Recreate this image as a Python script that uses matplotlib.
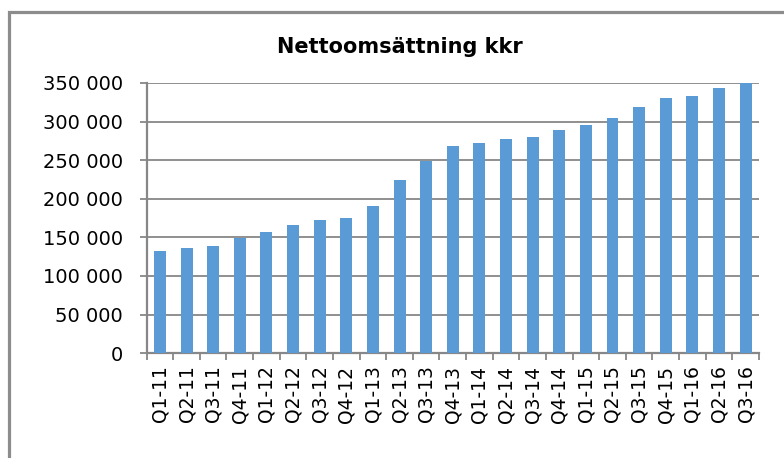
import matplotlib
matplotlib.use("Agg")
import matplotlib.pyplot as plt
from matplotlib.ticker import FuncFormatter, FixedLocator
from matplotlib.patches import Rectangle
import numpy as np

quarters = ["Q1-11", "Q2-11", "Q3-11", "Q4-11", "Q1-12", "Q2-12", "Q3-12", "Q4-12",
            "Q1-13", "Q2-13", "Q3-13", "Q4-13", "Q1-14", "Q2-14", "Q3-14", "Q4-14",
            "Q1-15", "Q2-15", "Q3-15", "Q4-15", "Q1-16", "Q2-16", "Q3-16"]
sales = [132000, 136000, 138500, 149500, 157000, 166000, 172500, 175000,
         190500, 224500, 249000, 268500, 272500, 277500, 280000, 289000,
         295500, 304500, 319000, 330500, 333000, 343500, 349500]

plt.rcParams["font.family"] = ["DejaVu Sans"]
grey = "#878787"

fig = plt.figure(figsize=(7.84, 4.58), dpi=100)
ax = fig.add_axes([0.187, 0.229, 0.781, 0.590])

x = np.arange(len(quarters))
ax.bar(x, sales, width=0.45, color="#5B9BD5", zorder=3)

ax.set_xlim(-0.5, len(quarters) - 0.5)
ax.set_ylim(0, 350000)
ax.set_yticks(np.arange(0, 350001, 50000))
ax.yaxis.set_major_formatter(FuncFormatter(lambda v, p: f"{int(v):,}".replace(",", " ")))
ax.yaxis.grid(True, color=grey, linewidth=1.3, zorder=0)

ax.set_xticks(x)
ax.set_xticklabels(quarters, rotation=90)
ax.xaxis.set_minor_locator(FixedLocator(np.arange(-0.5, len(quarters), 1.0)))
ax.tick_params(axis="x", which="major", length=0, pad=9, labelsize=13.5)
ax.tick_params(axis="x", which="minor", length=5, width=1.3, color=grey)
ax.tick_params(axis="y", length=5, width=1.3, color=grey, labelsize=14, pad=12)

for s in ["top", "right"]:
    ax.spines[s].set_visible(False)
for s in ["left", "bottom"]:
    ax.spines[s].set_color(grey)
    ax.spines[s].set_linewidth(1.6)

fig.text(0.51, 0.897, "Nettoomsättning kkr", fontsize=15, fontweight="bold",
         ha="center", va="center")

fig.patches.append(Rectangle((0.011, -0.1), 1.2, 1.074, transform=fig.transFigure,
                             fill=False, edgecolor="#8c8c8c", linewidth=2.3))

fig.savefig("out.png", dpi=100)
